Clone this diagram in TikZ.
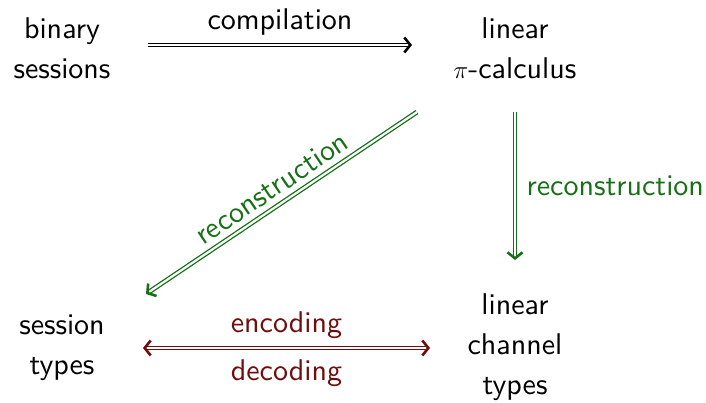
\documentclass[tikz,border=0pt]{standalone}
\usetikzlibrary{arrows.meta}
\font\bigss="[lmsans10-regular.otf]" at 30pt
\definecolor{grn}{RGB}{22,112,22}
\definecolor{mrn}{RGB}{112,14,14}
\begin{document}
\begin{tikzpicture}[x=1pt,y=-1pt,
  every node/.style={font=\fontsize{30}{40}\selectfont\bigss, inner sep=0pt},
  lbl/.style={},
  dbl/.style={double distance=2.2pt, line width=1.3pt},
  tip/.style={-{Straight Barb[length=6pt,width=15pt,line width=2.6pt]}}]
\useasboundingbox (0,0) rectangle (706,402);
\node[align=center] (bs) at (62,48) {binary\\sessions};
\node[align=center] (lpi) at (515,48) {linear\\$\pi$-calculus};
\node[align=center] (st) at (62,348) {session\\types};
\node[align=center] (lct) at (515,347) {linear\\channel\\types};
\coordinate (d1) at (417,112);
\coordinate (d2) at (146,294);
\coordinate (c1) at (148,45);
\coordinate (c2) at (412,45);
\coordinate (v1) at (515,112);
\coordinate (v2) at (515,260);
\coordinate (e1) at (143,348);
\coordinate (e2) at (430,348);
\draw[dbl,tip,black] (c1) -- node[lbl,above=9pt,text=black] (lc) {compilation} (c2);
\draw[dbl,tip,grn] (d1) -- node[lbl,sloped,above=7pt,text=grn] (ld) {reconstruction} (d2);
\draw[dbl,tip,grn] (v1) -- node[lbl,right=11pt,text=grn] (lv) {reconstruction} (v2);
\draw[dbl,mrn,{Straight Barb[length=6pt,width=15pt,line width=2.6pt]}-{Straight Barb[length=6pt,width=15pt,line width=2.6pt]}] (e1) -- node[lbl,above=9pt,text=mrn] (le) {encoding} node[lbl,below=11pt,text=mrn] (ldc) {decoding} (e2);
\end{tikzpicture}
\end{document}
